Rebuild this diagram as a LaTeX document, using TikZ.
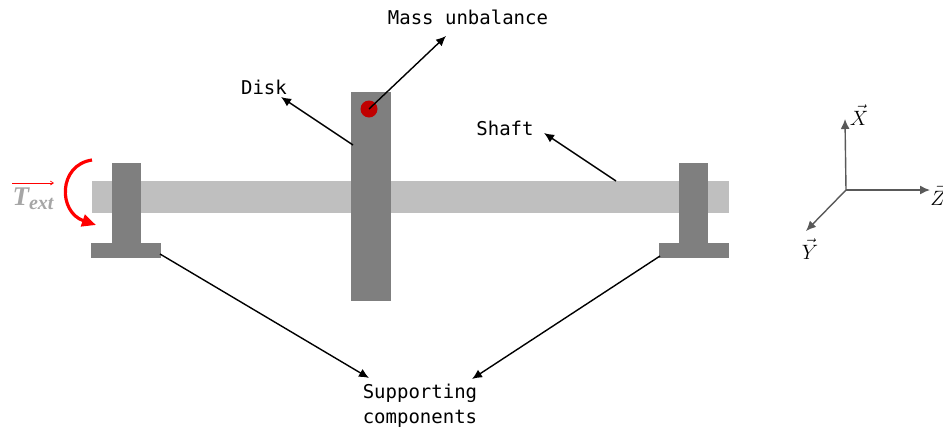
\documentclass[tikz,border=0pt]{standalone}
\usepackage{amsmath, amssymb}
\usepackage{fontspec}
\setmonofont{DejaVu Sans Mono}
\newfontfamily\labelserif{Liberation Serif}
\usetikzlibrary{arrows.meta, positioning, calc}

\begin{document}
\begin{tikzpicture}[x=1pt, y=-1pt,
    part/.style={draw=none, inner sep=0pt, fill=partgray},
    label/.style={font=\fontsize{19}{25}\selectfont\ttfamily, inner sep=0pt, align=center},
    axislabel/.style={font=\fontsize{22}{26}\selectfont, inner sep=0pt},
    conn/.style={-{Latex[length=10pt, width=9pt]}, line width=1.4pt, black},
    axis/.style={-{Latex[length=10pt, width=9pt]}, line width=1.4pt, axisgray}
]
    \definecolor{partgray}{HTML}{7F7F7F}
    \definecolor{shaftgray}{HTML}{BFBFBF}
    \definecolor{axisgray}{HTML}{595959}
    \definecolor{textgray}{HTML}{A6A6A6}
    \definecolor{massred}{HTML}{C00000}
    \useasboundingbox (0,0) rectangle (943,432);

    % rotor parts
    \node[part, fill=shaftgray, minimum width=637pt, minimum height=32pt] (shaft) at (410.5,197) {};
    \node[part, minimum width=29pt, minimum height=80pt] (pedL) at (126.5,203) {};
    \node[part, minimum width=70pt, minimum height=15pt] (baseL) at (126,250.5) {};
    \node[part, minimum width=29pt, minimum height=80pt] (pedR) at (693.5,203) {};
    \node[part, minimum width=70pt, minimum height=15pt] (baseR) at (694,250.5) {};
    \node[part, minimum width=40pt, minimum height=209pt] (disk) at (371,196.5) {};
    \node[circle, fill=massred, inner sep=0pt, minimum size=17pt] (mass) at (369,109) {};

    % labels
    \node[label] (massLabel) at (468,17) {Mass unbalance};
    \node[label] (diskLabel) at (264,87) {Disk};
    \node[label] (shaftLabel) at (505,128) {Shaft};
    \node[label] (support) at (420,406) {Supporting\\components};
    \node[font=\fontsize{27}{30}\selectfont\labelserif\bfseries\itshape, text=textgray, inner sep=0pt] (torque) at (33,199) {T\raisebox{-4pt}{\fontsize{20}{22}\selectfont ext}};

    % connector ends
    \coordinate (massTip) at (446,36);
    \coordinate (diskFrom) at (353,145);
    \coordinate (diskTip) at (281,97);
    \coordinate (shaftFrom) at (616,181);
    \coordinate (shaftTip) at (544,133);
    \coordinate (suppFromL) at (160,254);
    \coordinate (suppTipL) at (369,378);
    \coordinate (suppFromR) at (660,256);
    \coordinate (suppTipR) at (472,379);

    \draw[conn] (mass.center) -- (massTip);
    \draw[conn] (diskFrom) -- (diskTip);
    \draw[conn] (shaftFrom) -- (shaftTip);
    \draw[conn] (suppFromL) -- (suppTipL);
    \draw[conn] (suppFromR) -- (suppTipR);

    % external torque
    \coordinate (vecL) at (12,183);
    \coordinate (vecR) at (54,183);
    \coordinate (turnA) at (92,160);
    \coordinate (turnB) at (96,225);
    \draw[-{Straight Barb[length=3pt, width=4pt]}, red, line width=0.7pt] (vecL) -- (vecR);
    \draw[-{Triangle[length=14pt, width=12pt]}, red, line width=3.2pt] (turnA) .. controls (58,165) and (58,212) .. (turnB);

    % axes
    \coordinate (origin) at (846,190);
    \node[axislabel] (axisX) at (859,115) {$\vec{X}$};
    \node[axislabel] (axisZ) at (938,195) {$\vec{Z}$};
    \node[axislabel] (axisY) at (810,249) {$\vec{Y}$};
    \coordinate (tipX) at (845,119);
    \coordinate (tipZ) at (930,190);
    \coordinate (tipY) at (806,231);
    \draw[axis] (origin) -- (tipX);
    \draw[axis] (origin) -- (tipZ);
    \draw[axis] (origin) -- (tipY);
\end{tikzpicture}
\end{document}
